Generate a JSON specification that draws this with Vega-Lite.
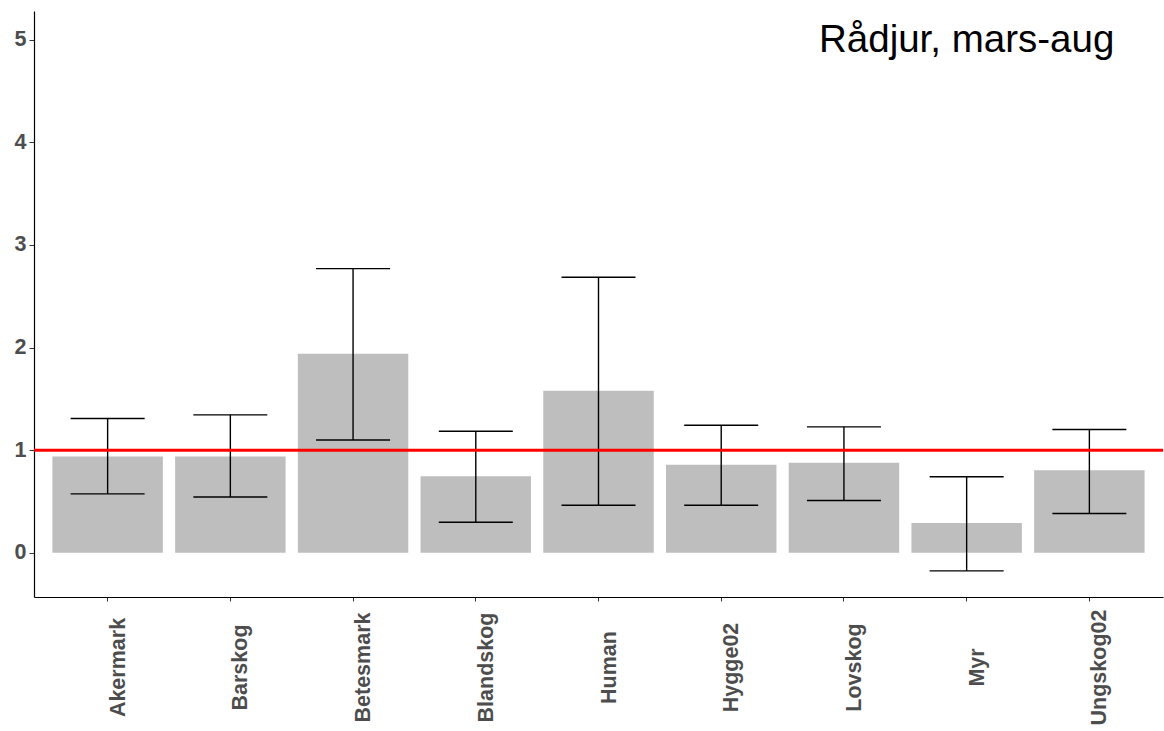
{
  "$schema": "https://vega.github.io/schema/vega-lite/v6.json",
  "autosize": {"type": "none"},
  "padding": {"left": 34, "top": 11, "right": 1, "bottom": 134},
  "width": 1129,
  "height": 586,
  "background": "white",
  "config": {
    "view": {"stroke": null},
    "font": "Liberation Sans"
  },
  "data": {
    "values": [
      {"habitat": "Akermark", "mean": 0.94, "lower": 0.575, "upper": 1.31},
      {"habitat": "Barskog", "mean": 0.94, "lower": 0.545, "upper": 1.345},
      {"habitat": "Betesmark", "mean": 1.94, "lower": 1.10, "upper": 2.77},
      {"habitat": "Blandskog", "mean": 0.747, "lower": 0.298, "upper": 1.185},
      {"habitat": "Human", "mean": 1.579, "lower": 0.464, "upper": 2.686},
      {"habitat": "Hygge02", "mean": 0.858, "lower": 0.464, "upper": 1.244},
      {"habitat": "Lovskog", "mean": 0.877, "lower": 0.51, "upper": 1.228},
      {"habitat": "Myr", "mean": 0.292, "lower": -0.175, "upper": 0.741},
      {"habitat": "Ungskog02", "mean": 0.805, "lower": 0.383, "upper": 1.202}
    ]
  },
  "encoding": {
    "x": {
      "field": "habitat",
      "type": "nominal",
      "sort": null,
      "scale": {"paddingInner": 0.1, "paddingOuter": 0.15},
      "axis": {
        "title": null,
        "labelAngle": 270,
        "labelAlign": "center",
        "labelBaseline": "top",
        "labelPadding": 66,
        "labelFont": "Liberation Sans",
        "labelFontSize": 21.5,
        "labelFontWeight": "bold",
        "labelColor": "#4D4D4D",
        "tickSize": 4,
        "tickColor": "#333333",
        "tickWidth": 1,
        "domainColor": "#000000",
        "domainWidth": 1.2,
        "grid": false
      }
    }
  },
  "layer": [
    {
      "mark": {"type": "bar", "color": "#BEBEBE"},
      "encoding": {
        "y": {
          "field": "mean",
          "type": "quantitative",
          "scale": {"domain": [-0.43, 5.28], "nice": false, "zero": false},
          "axis": {
            "title": null,
            "values": [0, 1, 2, 3, 4, 5],
            "format": "d",
            "labelFont": "Liberation Sans",
            "labelFontSize": 21.5,
            "labelFontWeight": "bold",
            "labelColor": "#4D4D4D",
            "labelPadding": 3,
            "tickSize": 5,
            "tickColor": "#333333",
            "domainColor": "#000000",
            "domainWidth": 1.2,
            "grid": false
          }
        }
      }
    },
    {
      "mark": {"type": "rule", "color": "#000000", "strokeWidth": 1.4},
      "encoding": {
        "y": {"field": "lower", "type": "quantitative"},
        "y2": {"field": "upper"}
      }
    },
    {
      "mark": {"type": "tick", "color": "#000000", "size": 74, "thickness": 1.4, "opacity": 1},
      "encoding": {
        "y": {"field": "upper", "type": "quantitative"}
      }
    },
    {
      "mark": {"type": "tick", "color": "#000000", "size": 74, "thickness": 1.4, "opacity": 1},
      "encoding": {
        "y": {"field": "lower", "type": "quantitative"}
      }
    },
    {
      "data": {"values": [{"level": 1}]},
      "mark": {"type": "rule", "color": "#FF0000", "strokeWidth": 3},
      "encoding": {
        "x": null,
        "y": {"field": "level", "type": "quantitative"}
      }
    },
    {
      "data": {"values": [{"habitat": "Myr", "pos": 5, "label": "Rådjur, mars-aug"}]},
      "mark": {"type": "text", "fontSize": 38.5, "font": "Liberation Sans", "color": "#000000", "align": "center", "baseline": "middle"},
      "encoding": {
        "y": {"field": "pos", "type": "quantitative"},
        "text": {"field": "label"}
      }
    }
  ]
}
